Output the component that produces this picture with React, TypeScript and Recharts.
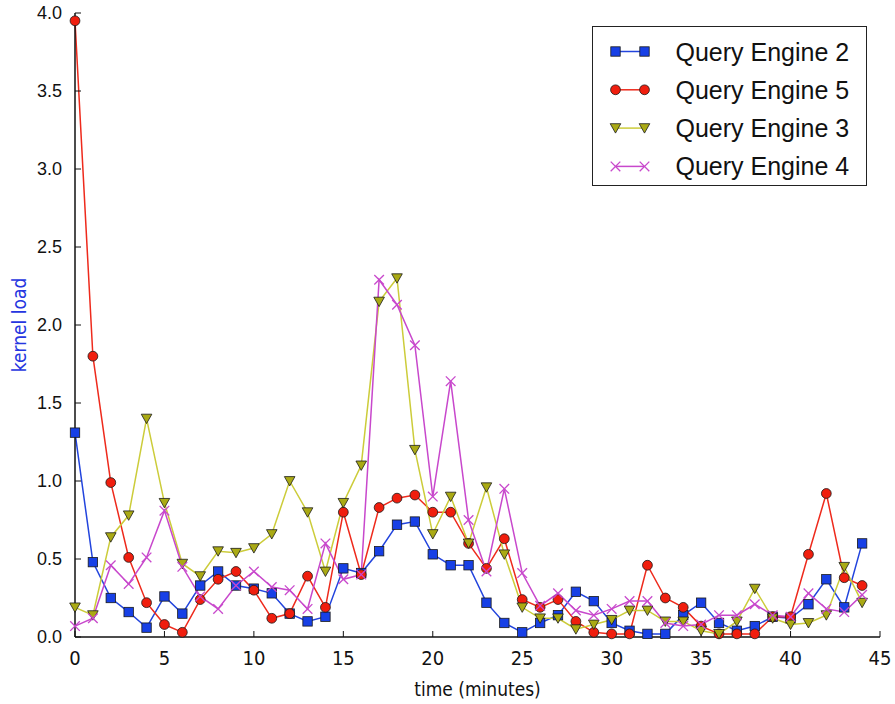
import React from 'react'
import { LineChart, Line, XAxis, YAxis, Legend } from 'recharts'

// minutes sampled on the x axis
const minutes = [
  0, 1, 2, 3, 4, 5, 6, 7, 8, 9, 10, 11, 12, 13, 14, 15, 16, 17, 18, 19, 20, 21, 22,
  23, 24, 25, 26, 27, 28, 29, 30, 31, 32, 33, 34, 35, 36, 37, 38, 39, 40, 41, 42, 43, 44,
]

// kernel load per engine
const engine2 = [
  1.31, 0.48, 0.25, 0.16, 0.06, 0.26, 0.15, 0.33, 0.42, 0.33, 0.31, 0.28, 0.15, 0.1, 0.13,
  0.44, 0.41, 0.55, 0.72, 0.74, 0.53, 0.46, 0.46, 0.22, 0.09, 0.03, 0.09, 0.14, 0.29, 0.23,
  0.09, 0.04, 0.02, 0.02, 0.14, 0.22, 0.09, 0.04, 0.07, 0.13, 0.12, 0.21, 0.37, 0.19, 0.6,
]
const engine5 = [
  3.95, 1.8, 0.99, 0.51, 0.22, 0.08, 0.03, 0.24, 0.37, 0.42, 0.3, 0.12, 0.15, 0.39, 0.19,
  0.8, 0.4, 0.83, 0.89, 0.91, 0.8, 0.8, 0.6, 0.44, 0.63, 0.24, 0.19, 0.24, 0.1, 0.03,
  0.02, 0.02, 0.46, 0.25, 0.19, 0.07, 0.02, 0.02, 0.02, 0.13, 0.13, 0.53, 0.92, 0.38, 0.33,
]
const engine3 = [
  0.19, 0.14, 0.64, 0.78, 1.4, 0.86, 0.47, 0.39, 0.55, 0.54, 0.57, 0.66, 1.0, 0.8, 0.42,
  0.86, 1.1, 2.15, 2.3, 1.2, 0.66, 0.9, 0.6, 0.96, 0.53, 0.19, 0.12, 0.12, 0.05, 0.08,
  0.11, 0.17, 0.17, 0.1, 0.1, 0.04, 0.02, 0.1, 0.31, 0.12, 0.08, 0.09, 0.14, 0.45, 0.22,
]
const engine4 = [
  0.07, 0.12, 0.46, 0.34, 0.51, 0.81, 0.45, 0.26, 0.18, 0.33, 0.42, 0.32, 0.3, 0.18, 0.6,
  0.37, 0.4, 2.29, 2.13, 1.87, 0.9, 1.64, 0.75, 0.42, 0.95, 0.41, 0.2, 0.28, 0.17, 0.14,
  0.18, 0.23, 0.23, 0.09, 0.07, 0.08, 0.14, 0.14, 0.21, 0.14, 0.13, 0.28, 0.18, 0.16, 0.27,
]

const xTicks = [0, 5, 10, 15, 20, 25, 30, 35, 40, 45]
const yTicks = [0, 0.5, 1, 1.5, 2, 2.5, 3, 3.5, 4]

const data = minutes.map((t, i) => ({
  t,
  qe2: engine2[i],
  qe5: engine5[i],
  qe3: engine3[i],
  qe4: engine4[i],
}))

const series = [
  { key: 'qe2', name: 'Query Engine 2', line: '#2244dd', fill: '#1740e6', marker: 'square' },
  { key: 'qe5', name: 'Query Engine 5', line: '#ee2a1c', fill: '#f01e0e', marker: 'circle' },
  { key: 'qe3', name: 'Query Engine 3', line: '#cccc3a', fill: '#aaaa14', marker: 'triangle' },
  { key: 'qe4', name: 'Query Engine 4', line: '#c848cc', fill: '#c848cc', marker: 'x' },
]

const edge = '#1a1a1a'
const font = '"Liberation Sans", Arial, sans-serif'
const narrow = '"Liberation Sans Narrow", "DejaVu Sans Condensed", "Liberation Sans", sans-serif'

function marker(kind: string, cx: number, cy: number, fill: string, key?: string) {
  if (cx == null || cy == null) return <g key={key} />
  if (kind === 'square') {
    return <rect key={key} x={cx - 4.7} y={cy - 4.7} width={9.4} height={9.4} fill={fill} stroke={edge} strokeWidth={0.8} />
  }
  if (kind === 'circle') {
    return <circle key={key} cx={cx} cy={cy} r={4.9} fill={fill} stroke={edge} strokeWidth={0.8} />
  }
  if (kind === 'triangle') {
    const pts = `${cx - 5.3},${cy - 4.4} ${cx + 5.3},${cy - 4.4} ${cx},${cy + 5}`
    return <polygon key={key} points={pts} fill={fill} stroke={edge} strokeWidth={0.8} />
  }
  return (
    <g key={key} stroke={fill} strokeWidth={1.3}>
      <line x1={cx - 4.8} y1={cy - 4.8} x2={cx + 4.8} y2={cy + 4.8} />
      <line x1={cx - 4.8} y1={cy + 4.8} x2={cx + 4.8} y2={cy - 4.8} />
    </g>
  )
}

const renderLegend = () => (
  <div style={{ width: 275, height: 160, border: '1.5px solid #222', background: '#fff', boxSizing: 'border-box' }}>
    <svg width={272} height={157}>
      {series.map((s, i) => {
        const y = 24.5 + i * 38.3
        return (
          <g key={s.key}>
            <line x1={22.5} x2={51.5} y1={y} y2={y} stroke={s.line} strokeWidth={1.5} />
            {marker(s.marker, 22.5, y, s.fill)}
            {marker(s.marker, 51.5, y, s.fill)}
            <text x={82.5} y={y} dy="0.36em" fontSize={25} fontFamily={font} fill="#111">
              {s.name}
            </text>
          </g>
        )
      })}
    </svg>
  </div>
)

const YLabel = () => (
  <text x={19} y={325} transform="rotate(-90 19 325)" textAnchor="middle" dominantBaseline="central"
    fontSize={19} fontFamily={narrow} fill="#2636e0">
    kernel load
  </text>
)

export default function App() {
  return (
    <div style={{ width: 895, height: 704, background: '#fff' }}>
      <style>{'body{margin:0}'}</style>
      <LineChart width={895} height={704} data={data} margin={{ top: 13, right: 15, bottom: 0, left: 0 }}>
        <XAxis
          dataKey="t"
          type="number"
          domain={[0, 45]}
          ticks={xTicks}
          height={67}
          tickSize={-6}
          tickMargin={20}
          axisLine={{ stroke: '#111', strokeWidth: 1.5 }}
          tickLine={{ stroke: '#111' }}
          tick={{ fontSize: 20, fontFamily: narrow, fill: '#111' }}
          label={{ value: 'time (minutes)', position: 'insideBottom', offset: 8, fontSize: 19, fontFamily: narrow, fill: '#111' }}
        />
        <XAxis
          xAxisId="top"
          orientation="top"
          dataKey="t"
          type="number"
          domain={[0, 45]}
          ticks={xTicks}
          height={0}
          tickSize={-6}
          tick={false}
          axisLine={{ stroke: '#111', strokeWidth: 1.5 }}
          tickLine={{ stroke: '#111' }}
        />
        <YAxis
          type="number"
          domain={[0, 4]}
          ticks={yTicks}
          width={75}
          tickSize={-6}
          tickMargin={19}
          tickFormatter={(v: number) => v.toFixed(1)}
          axisLine={{ stroke: '#111', strokeWidth: 1.5 }}
          tickLine={{ stroke: '#111' }}
          tick={{ fontSize: 18, fontFamily: font, fill: '#111' }}
          label={{ content: () => <YLabel /> }}
        />
        <YAxis
          yAxisId="right"
          orientation="right"
          type="number"
          domain={[0, 4]}
          ticks={yTicks}
          width={0}
          tickSize={-6}
          tick={false}
          axisLine={{ stroke: '#111', strokeWidth: 1.5 }}
          tickLine={{ stroke: '#111' }}
        />
        <Legend
          layout="vertical"
          align="center"
          verticalAlign="middle"
          content={renderLegend}
          wrapperStyle={{ position: 'absolute', left: 592, top: 26, width: 275, height: 160 }}
        />
        {series.map((s) => (
          <Line
            key={s.key}
            dataKey={s.key}
            name={s.name}
            stroke={s.line}
            strokeWidth={1.5}
            isAnimationActive={false}
            activeDot={false}
            dot={(p: any) => marker(s.marker, p.cx, p.cy, s.fill, `${s.key}-${p.index}`)}
          />
        ))}
      </LineChart>
    </div>
  )
}
